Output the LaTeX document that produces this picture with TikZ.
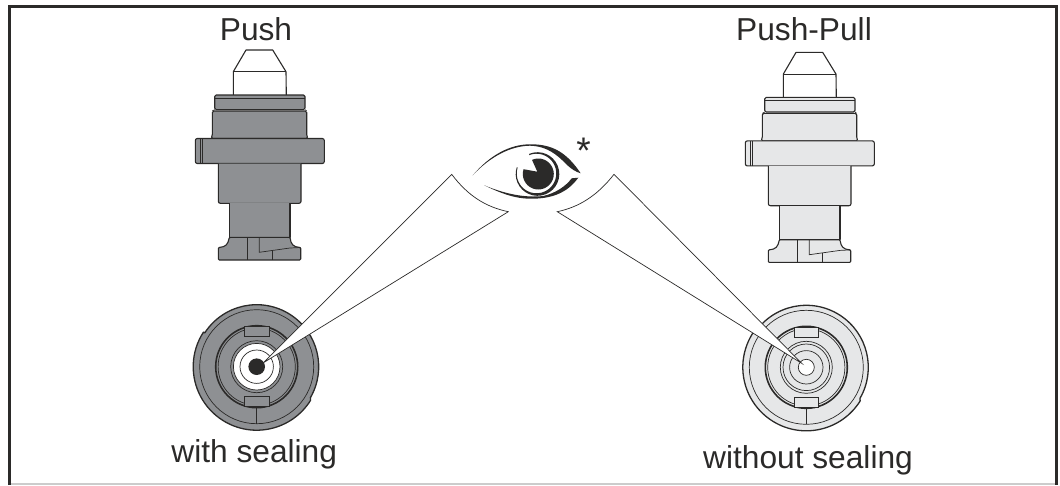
\documentclass[tikz,border=0pt]{standalone}
\usepackage{fontspec}
\setmainfont{Liberation Sans}
\definecolor{inkdark}{HTML}{2B2A29}
\definecolor{pushgrey}{HTML}{8E9093}
\definecolor{pullgrey}{HTML}{E6E7E8}
\definecolor{edgegrey}{HTML}{CCCCCC}
\tikzset{
	outline/.style = {draw = inkdark, line width = 1.1pt, line join = round},
	thinline/.style = {draw = inkdark, line width = 0.7pt},
	beam/.style = {draw = inkdark, line width = 0.7pt, fill = white},
	caption/.style = {font = \fontsize{31.7}{36}\selectfont, text = inkdark, inner sep = 0pt, anchor = base},
}
% side view of the plug, #1 = shift, #2 = body colour
\newcommand{\plugside}[2]{
	\begin{scope}[shift = {(#1)}]
	\draw[outline, fill = white] (233.3,95) -- (233.3,71.7) -- (246,50) -- (272.7,50) -- (286,71.7) -- (286.3,95);
	\draw[outline] (233.7,71.7) -- (286,71.7);
	\draw[outline, fill = #2, rounded corners = 1.5pt] (214.7,95) rectangle (305,109.6);
	\draw[thinline] (215,98) -- (304.7,98);
	\draw[outline, fill = #2, rounded corners = 1.5pt] (212.3,111) -- (306.7,111) -- (306.7,136) -- (308,138.5) -- (211,138.5) -- (212.3,136) -- cycle;
	\draw[thinline] (214.7,109.6) -- (212.3,111) (305,109.6) -- (306.7,111);
	\draw[outline, fill = #2, rounded corners = 2pt] (195.3,138.5) rectangle (324.3,163.5);
	\draw[thinline] (200.7,138.5) -- (200.7,163.5) (202.7,138.5) -- (202.7,163.5);
	\draw[outline, fill = #2, rounded corners = 2pt] (218.3,163.5) -- (218.3,203.3) -- (301,203.3) -- (301,163.5);
	\draw[outline, fill = #2] (229.3,203.3) -- (229.3,237.3) -- (290,237.3) -- (290,203.3);
	\draw[outline, fill = #2, rounded corners = 1pt] (229.3,237.3) .. controls (228,244) and (226,247) .. (218.3,247.5) -- (218.3,260) -- (300.7,260) -- (300.7,247.5) .. controls (293,247) and (291,244) .. (290,237.3) -- cycle;
	\draw[thinline] (229.3,237.3) -- (290,237.3);
	\draw[thinline] (247.3,237.3) -- (247.3,260);
	\draw[thinline] (259.3,237.3) -- (259.3,252.3) -- (290,248) -- (300.7,247.5);
	\draw[thinline] (272,250.7) -- (272,260);
	\end{scope}
}
% front view of the plug, #1 = centre, #2 = body colour
\newcommand{\plugfront}[2]{
	\begin{scope}[shift = {(#1)}]
	\draw[outline, fill = #2, line width = 1.3pt] (-147:62) arc[start angle = -147, end angle = 30, radius = 62] -- (32:63.5) arc[start angle = 32, end angle = 213, radius = 63.5] -- cycle;
	\draw[thinline] (0,0) circle (57);
	\draw[outline, line width = 1.6pt] (0,0) circle (41);
	\draw[thinline] (0,0) circle (38.6);
	\draw[thinline, fill = #2] (-12.3,-40) rectangle (12.3,-30);
	\draw[thinline, fill = #2] (-12.3,30) rectangle (12.3,40);
	\draw[thinline] (0,40) -- (0,57);
	\draw[thinline] (0,0) circle (26);
	\end{scope}
}
\begin{document}
\begin{tikzpicture}[x = 1pt, y = -1pt]
	\useasboundingbox (0,0) rectangle (1060,485);
%	\draw[help lines, step = 100] (0,0) grid (1060,485);
	\draw[edgegrey, line width = 2pt] (9,484) -- (1056.5,484);
	\draw[draw = inkdark, line width = 3pt] (9,485) -- (9,6.5) -- (1056.5,6.5) -- (1056.5,485);

	\plugside{0,0}{pushgrey}
	\plugside{550,2.4}{pullgrey}

	\plugfront{256.7,366.7}{pushgrey}
	\draw[thinline, fill = white] (256.7,366.7) circle (23.3);
	\draw[thinline] (256.7,366.7) circle (16.7);
	\fill[inkdark] (256.7,366.7) circle (8.3);

	\plugfront{806.3,367.3}{pullgrey}
	\draw[thinline] (806.3,367.3) circle (23.3);
	\draw[thinline] (806.3,367.3) circle (16.7);
	\draw[thinline, fill = white] (806.3,367.3) circle (8);

	\coordinate (leftapex) at (263,363);
	\coordinate (leftpeak) at (451.7,174.3);
	\coordinate (leftfoot) at (508.3,211.7);
	\coordinate (rightapex) at (801.7,363.3);
	\coordinate (rightpeak) at (614,174.3);
	\coordinate (rightfoot) at (557.3,211.7);
	\draw[beam] (leftapex) -- (leftpeak) .. controls (468,196) and (486,207) .. (leftfoot) -- cycle;
	\draw[beam] (rightapex) -- (rightpeak) .. controls (597,196) and (579,207) .. (rightfoot) -- cycle;

	% eye
	\fill[inkdark] (472.7,175.3) .. controls (490,155) and (510,144.3) .. (530,144.3) .. controls (553,144) and (567,153) .. (580.7,173.3) .. controls (570,170) and (566,163) .. (558.3,156.7) .. controls (549,149) and (540,146) .. (530,145.7) .. controls (510,146) and (490,157) .. (472.7,175.3) -- cycle;
	\fill[inkdark] (484.3,185.3) .. controls (500,193) and (515,198.7) .. (530,198.7) .. controls (553,199) and (568,192) .. (578.3,177.7) -- (571.7,178.3) .. controls (566,186) and (556,193) .. (543.3,196) .. controls (525,198) and (505,194) .. (484.3,185.3) -- cycle;
	\fill[inkdark] ([shift = {(-112:21.8)}]537.5,174) arc[start angle = -112, end angle = 198, radius = 21.8] -- ([shift = {(198:19.8)}]536.5,173.5) arc[start angle = 198, end angle = -112, radius = 19.8] -- cycle;
	\fill[inkdark] (537.3,171.7) -- ([shift = {(-114:15.5)}]538.3,174) arc[start angle = -114, end angle = 198, radius = 15.5] -- cycle;

	\node[caption] (pushlabel) at (256,40) {Push};
	\node[caption] (pulllabel) at (804,40.7) {Push-Pull};
	\node[caption] (withlabel) at (254.2,462.7) {with sealing};
	\node[caption] (withoutlabel) at (808,468.5) {without sealing};
	\node[caption, font = \fontsize{37}{40}\selectfont] (starlabel) at (583.5,163) {*};
\end{tikzpicture}
\end{document}
